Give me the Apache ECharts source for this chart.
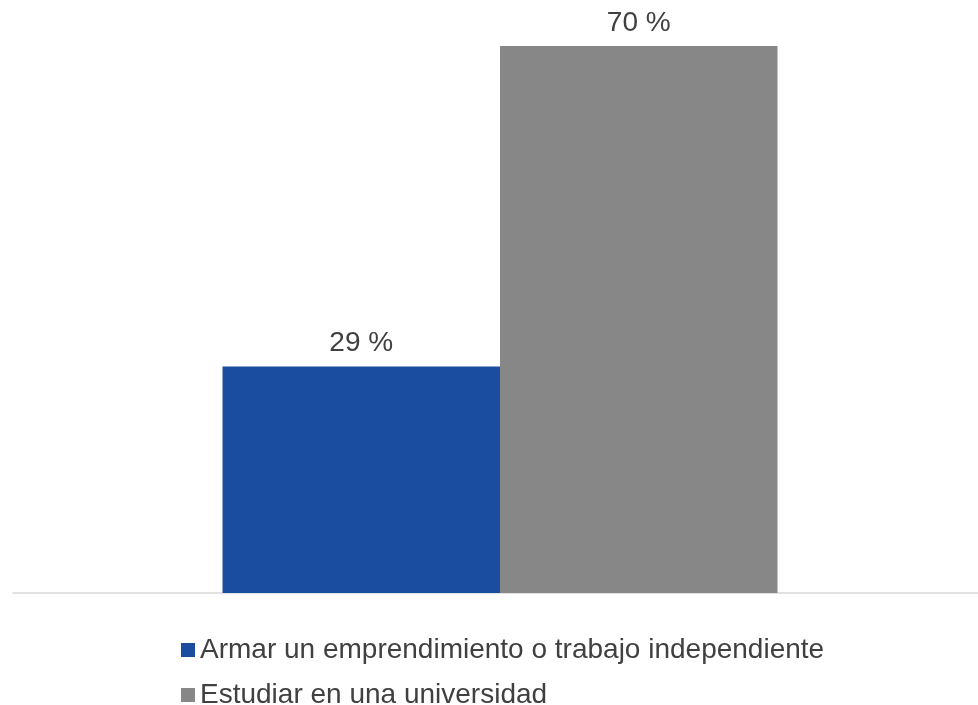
<!DOCTYPE html>
<html><head><meta charset="utf-8">
<script src="https://cdn.jsdelivr.net/npm/echarts@6/dist/echarts.min.js"></script>
<style>html,body{margin:0;padding:0;background:#fff}#c{width:978px;height:705px}</style>
</head><body><div id="c"></div>
<script>
const categories = [''];
const seriesNames = ['Armar un emprendimiento o trabajo independiente', 'Estudiar en una universidad'];
const emprendimiento = [29];
const universidad = [70];
const colors = ['#1a4da0', '#878787'];

const chart = echarts.init(document.getElementById('c'));
const font = 'Liberation Sans, Arial, sans-serif';
const labelStyle = {show: true, position: 'top', distance: 9, formatter: '{c} %', color: '#404040', fontSize: 28, fontFamily: font};
const legendBase = {orient: 'horizontal', left: 176, itemWidth: 14, itemHeight: 14, icon: 'rect',
  textStyle: {color: '#404040', fontSize: 28, fontFamily: font}};
chart.setOption({
  animation: false,
  color: colors,
  grid: [
    {left: 22, right: 0, top: 46, bottom: 112, containLabel: false},
    {left: 13, right: 0, top: 46, bottom: 112, containLabel: false}
  ],
  xAxis: [
    {type: 'category', data: categories, gridIndex: 0, axisLine: {show: false}, axisTick: {show: false}, axisLabel: {show: false}},
    {type: 'category', data: categories, gridIndex: 1, axisLine: {lineStyle: {color: '#d9d9d9', width: 1.5}}, axisTick: {show: false}, axisLabel: {show: false}}
  ],
  yAxis: [
    {type: 'value', gridIndex: 0, min: 0, max: 70, show: false, splitLine: {show: false}},
    {type: 'value', gridIndex: 1, min: 0, max: 70, show: false, splitLine: {show: false}}
  ],
  legend: [
    Object.assign({}, legendBase, {top: 631, data: [seriesNames[0]]}),
    Object.assign({}, legendBase, {top: 676, data: [seriesNames[1]]})
  ],
  series: [
    {name: seriesNames[0], type: 'bar', data: emprendimiento, barWidth: 277.5, barGap: '0%', label: labelStyle},
    {name: seriesNames[1], type: 'bar', data: universidad, barWidth: 277.5, barGap: '0%', label: labelStyle}
  ]
});
</script></body></html>
